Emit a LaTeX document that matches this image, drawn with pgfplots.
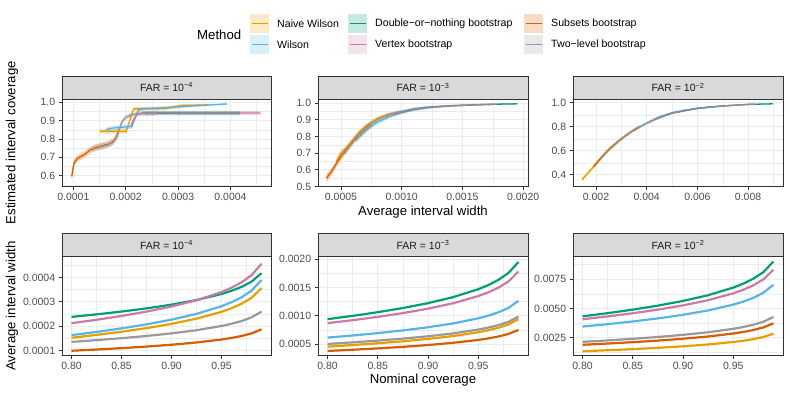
\documentclass[border=0pt]{standalone}
\usepackage{pgfplots}
\pgfplotsset{compat=1.18}
\usepackage{pgfplotstable}
\usepackage{fontspec}
\setmainfont{Liberation Sans}

\definecolor{cNai}{HTML}{E69F00}
\definecolor{cWil}{HTML}{56B4E9}
\definecolor{cDon}{HTML}{009E73}
\definecolor{cVer}{HTML}{CC79A7}
\definecolor{cSub}{HTML}{D55E00}
\definecolor{cTwo}{HTML}{999999}
\definecolor{g10}{HTML}{1A1A1A}
\definecolor{g20}{HTML}{333333}
\definecolor{g30}{HTML}{4D4D4D}
\definecolor{g85}{HTML}{D9D9D9}
\definecolor{g92}{HTML}{EBEBEB}

% ---------- bottom row: average width vs nominal coverage ----------
\pgfplotstableread{
c nai wil don ver sub two
0.800 1.520e-4 1.630e-4 2.380e-4 2.120e-4 0.985e-4 1.350e-4
0.825 1.638e-4 1.761e-4 2.484e-4 2.261e-4 1.036e-4 1.422e-4
0.850 1.769e-4 1.907e-4 2.600e-4 2.419e-4 1.093e-4 1.503e-4
0.875 1.918e-4 2.073e-4 2.731e-4 2.598e-4 1.158e-4 1.594e-4
0.900 2.093e-4 2.267e-4 2.885e-4 2.808e-4 1.233e-4 1.701e-4
0.925 2.306e-4 2.505e-4 3.074e-4 3.064e-4 1.326e-4 1.832e-4
0.950 2.589e-4 2.820e-4 3.324e-4 3.404e-4 1.449e-4 2.005e-4
0.960 2.737e-4 2.984e-4 3.454e-4 3.582e-4 1.513e-4 2.096e-4
0.970 2.920e-4 3.188e-4 3.616e-4 3.802e-4 1.593e-4 2.208e-4
0.980 3.167e-4 3.462e-4 3.833e-4 4.098e-4 1.699e-4 2.359e-4
0.990 3.560e-4 3.900e-4 4.180e-4 4.570e-4 1.870e-4 2.600e-4
}\BA
\pgfplotstableread{
c nai wil don ver sub two
0.800 0.458e-3 0.617e-3 0.941e-3 0.871e-3 0.382e-3 0.505e-3
0.825 0.486e-3 0.654e-3 0.999e-3 0.923e-3 0.403e-3 0.533e-3
0.850 0.517e-3 0.696e-3 1.064e-3 0.982e-3 0.427e-3 0.564e-3
0.875 0.552e-3 0.743e-3 1.137e-3 1.048e-3 0.454e-3 0.599e-3
0.900 0.594e-3 0.799e-3 1.223e-3 1.126e-3 0.486e-3 0.640e-3
0.925 0.644e-3 0.866e-3 1.329e-3 1.221e-3 0.525e-3 0.691e-3
0.950 0.711e-3 0.956e-3 1.468e-3 1.348e-3 0.576e-3 0.758e-3
0.960 0.746e-3 1.003e-3 1.541e-3 1.413e-3 0.603e-3 0.793e-3
0.970 0.790e-3 1.061e-3 1.632e-3 1.495e-3 0.636e-3 0.836e-3
0.980 0.848e-3 1.139e-3 1.753e-3 1.605e-3 0.681e-3 0.894e-3
0.990 0.941e-3 1.264e-3 1.947e-3 1.780e-3 0.752e-3 0.987e-3
}\BB
\pgfplotstableread{
c nai wil don ver sub two
0.800 1.360e-3 3.460e-3 4.330e-3 4.080e-3 1.910e-3 2.160e-3
0.825 1.447e-3 3.665e-3 4.599e-3 4.323e-3 2.016e-3 2.282e-3
0.850 1.543e-3 3.894e-3 4.899e-3 4.594e-3 2.133e-3 2.419e-3
0.875 1.653e-3 4.155e-3 5.239e-3 4.901e-3 2.267e-3 2.574e-3
0.900 1.781e-3 4.459e-3 5.638e-3 5.262e-3 2.424e-3 2.755e-3
0.925 1.938e-3 4.832e-3 6.126e-3 5.703e-3 2.615e-3 2.977e-3
0.950 2.146e-3 5.326e-3 6.773e-3 6.287e-3 2.869e-3 3.271e-3
0.960 2.255e-3 5.584e-3 7.110e-3 6.592e-3 3.002e-3 3.425e-3
0.970 2.390e-3 5.904e-3 7.529e-3 6.970e-3 3.166e-3 3.615e-3
0.980 2.571e-3 6.334e-3 8.092e-3 7.478e-3 3.387e-3 3.871e-3
0.990 2.860e-3 7.020e-3 8.990e-3 8.290e-3 3.740e-3 4.280e-3
}\BC

\newcommand{\tickfont}{\fontsize{10.5}{12}\selectfont}
\newcommand{\titlefont}{\fontsize{13.2}{15}\selectfont}

\pgfplotsset{
  panel/.style={
    anchor=south west, scale only axis, scaled ticks=false,
    axis line style={draw=g20, line width=0.75pt},
    tick align=outside, tick pos=left,
    major tick length=3.3pt, minor tick length=0pt,
    every tick/.style={draw=g20, line width=0.75pt},
    grid=both,
    major grid style={draw=g92, line width=0.85pt},
    minor grid style={draw=g92, line width=0.45pt},
    ticklabel style={font=\tickfont, text=g30},
  },
  toprow/.style={panel, height=87.5pt},
  botrow/.style={panel, height=98.8pt,
    xmin=0.7905, xmax=0.9995,
    xtick={0.80,0.85,0.90,0.95}, xticklabels={0.80,0.85,0.90,0.95},
    minor xtick={0.825,0.875,0.925,0.975}},
  tl/.style={line width=1.3pt},
  rb/.style={draw=none, fill opacity=0.3},
  bl/.style={line width=2.2pt},
}

\newcommand{\blines}[1]{%
  \addplot[cNai, bl] table[x=c,y=nai] {#1};
  \addplot[cWil, bl] table[x=c,y=wil] {#1};
  \addplot[cDon, bl] table[x=c,y=don] {#1};
  \addplot[cVer, bl] table[x=c,y=ver] {#1};
  \addplot[cSub, bl] table[x=c,y=sub] {#1};
  \addplot[cTwo, bl] table[x=c,y=two] {#1};
}

\begin{document}
\begin{tikzpicture}
\useasboundingbox (0pt,0pt) rectangle (789pt,395pt);

% ===== Top row, FAR = 1e-4 =====
\begin{axis}[toprow, at={(62pt,208.5pt)}, width=209pt,
  xmin=7.84e-5, xmax=4.773e-4, ymin=0.5413, ymax=1.018,
  xtick={1e-4,2e-4,3e-4,4e-4}, xticklabels={0.0001,0.0002,0.0003,0.0004},
  minor xtick={1.5e-4,2.5e-4,3.5e-4,4.5e-4},
  ytick={0.6,0.7,0.8,0.9,1.0}, yticklabels={0.6,0.7,0.8,0.9,1.0},
  minor ytick={0.55,0.65,0.75,0.85,0.95}]
  % lines
  \addplot[cNai, tl] coordinates {(1.50e-4,0.842) (1.70e-4,0.842) (2.01e-4,0.842) (2.15e-4,0.964) (2.40e-4,0.965) (2.75e-4,0.966) (3.07e-4,0.983) (3.58e-4,0.986)};
  \addplot[cWil, tl] coordinates {(1.62e-4,0.850) (1.73e-4,0.859) (2.02e-4,0.866) (2.115e-4,0.867) (2.24e-4,0.958) (2.34e-4,0.965) (2.75e-4,0.970) (3.39e-4,0.982) (3.93e-4,0.991)};
  \addplot[cDon, tl] coordinates {(2.38e-4,0.940) (3.00e-4,0.941) (4.18e-4,0.941)};
  \addplot[cVer, tl] coordinates {(2.10e-4,0.870) (2.145e-4,0.904) (2.22e-4,0.935) (2.34e-4,0.944) (3.00e-4,0.942) (4.00e-4,0.942) (4.57e-4,0.942)};
  \addplot[cSub, tl] coordinates {(9.70e-5,0.596) (9.89e-5,0.632) (1.013e-4,0.668) (1.065e-4,0.690) (1.13e-4,0.703) (1.22e-4,0.717) (1.32e-4,0.740) (1.41e-4,0.752) (1.54e-4,0.763) (1.67e-4,0.772) (1.76e-4,0.786) (1.83e-4,0.813) (1.87e-4,0.845)};
  \addplot[cTwo, tl] coordinates {(1.35e-4,0.743) (1.50e-4,0.757) (1.65e-4,0.768) (1.76e-4,0.783) (1.83e-4,0.812) (1.88e-4,0.856) (1.93e-4,0.895) (2.00e-4,0.917) (2.10e-4,0.931) (2.22e-4,0.937) (2.60e-4,0.940)};
  % ribbons (upper bound forward, lower bound back)
  \addplot[rb, fill=cNai] coordinates {(1.50e-4,0.854) (1.70e-4,0.854) (2.01e-4,0.854) (2.15e-4,0.974) (2.40e-4,0.974) (2.75e-4,0.975) (3.07e-4,0.990) (3.58e-4,0.992) (3.58e-4,0.980) (3.07e-4,0.976) (2.75e-4,0.957) (2.40e-4,0.956) (2.15e-4,0.954) (2.01e-4,0.830) (1.70e-4,0.830) (1.50e-4,0.830)};
  \addplot[rb, fill=cWil] coordinates {(1.62e-4,0.862) (1.73e-4,0.871) (2.02e-4,0.878) (2.115e-4,0.879) (2.24e-4,0.968) (2.34e-4,0.974) (2.75e-4,0.978) (3.39e-4,0.988) (3.93e-4,0.996) (3.93e-4,0.986) (3.39e-4,0.976) (2.75e-4,0.962) (2.34e-4,0.956) (2.24e-4,0.948) (2.115e-4,0.855) (2.02e-4,0.854) (1.73e-4,0.847) (1.62e-4,0.838)};
  \addplot[rb, fill=cDon] coordinates {(2.38e-4,0.952) (3.00e-4,0.953) (4.18e-4,0.953) (4.18e-4,0.929) (3.00e-4,0.929) (2.38e-4,0.928)};
  \addplot[rb, fill=cVer] coordinates {(2.10e-4,0.882) (2.145e-4,0.916) (2.22e-4,0.946) (2.34e-4,0.954) (3.00e-4,0.952) (4.00e-4,0.952) (4.57e-4,0.952) (4.57e-4,0.932) (4.00e-4,0.932) (3.00e-4,0.932) (2.34e-4,0.934) (2.22e-4,0.924) (2.145e-4,0.892) (2.10e-4,0.858)};
  \addplot[rb, fill=cSub] coordinates {(9.70e-5,0.612) (9.89e-5,0.652) (1.013e-4,0.688) (1.065e-4,0.708) (1.13e-4,0.721) (1.22e-4,0.735) (1.32e-4,0.758) (1.41e-4,0.770) (1.54e-4,0.781) (1.67e-4,0.790) (1.76e-4,0.804) (1.83e-4,0.831) (1.87e-4,0.863) (1.87e-4,0.827) (1.83e-4,0.795) (1.76e-4,0.768) (1.67e-4,0.754) (1.54e-4,0.745) (1.41e-4,0.734) (1.32e-4,0.722) (1.22e-4,0.699) (1.13e-4,0.685) (1.065e-4,0.672) (1.013e-4,0.648) (9.89e-5,0.612) (9.70e-5,0.580)};
  \addplot[rb, fill=cTwo] coordinates {(1.35e-4,0.758) (1.50e-4,0.772) (1.65e-4,0.783) (1.76e-4,0.798) (1.83e-4,0.827) (1.88e-4,0.871) (1.93e-4,0.910) (2.00e-4,0.931) (2.10e-4,0.944) (2.22e-4,0.949) (2.60e-4,0.952) (2.60e-4,0.928) (2.22e-4,0.925) (2.10e-4,0.918) (2.00e-4,0.903) (1.93e-4,0.880) (1.88e-4,0.841) (1.83e-4,0.797) (1.76e-4,0.768) (1.65e-4,0.753) (1.50e-4,0.742) (1.35e-4,0.728)};
\end{axis}

% ===== Top row, FAR = 1e-3 =====
\begin{axis}[toprow, at={(318pt,208.5pt)}, width=210pt,
  xmin=3.105e-4, xmax=2.04e-3, ymin=0.5, ymax=1.025,
  xtick={5e-4,1e-3,1.5e-3,2e-3}, xticklabels={0.0005,0.0010,0.0015,0.0020},
  minor xtick={7.5e-4,1.25e-3,1.75e-3},
  ytick={0.5,0.6,0.7,0.8,0.9,1.0}, yticklabels={0.5,0.6,0.7,0.8,0.9,1.0},
  minor ytick={0.55,0.65,0.75,0.85,0.95}]
  \addplot[cNai, tl] coordinates {(4.6e-4,0.645) (5.0e-4,0.700) (5.5e-4,0.735) (6.0e-4,0.780) (6.5e-4,0.825) (7.0e-4,0.858) (7.5e-4,0.885) (8.0e-4,0.908) (8.5e-4,0.922) (9.0e-4,0.934) (9.4e-4,0.941)};
  \addplot[cWil, tl] coordinates {(6.2e-4,0.778) (7.0e-4,0.832) (7.5e-4,0.862) (8.0e-4,0.886) (9.0e-4,0.920) (1.0e-3,0.944) (1.1e-3,0.961) (1.26e-3,0.977)};
  \addplot[cDon, tl] coordinates {(9.4e-4,0.938) (1.0e-3,0.948) (1.1e-3,0.964) (1.2e-3,0.974) (1.4e-3,0.984) (1.6e-3,0.990) (1.8e-3,0.994) (1.95e-3,0.996)};
  \addplot[cVer, tl] coordinates {(8.7e-4,0.925) (1.0e-3,0.948) (1.1e-3,0.964) (1.2e-3,0.974) (1.4e-3,0.984) (1.6e-3,0.990) (1.78e-3,0.994)};
  \addplot[cSub, tl] coordinates {(3.8e-4,0.550) (4.2e-4,0.588) (4.6e-4,0.635) (5.0e-4,0.680) (5.5e-4,0.722) (6.0e-4,0.770) (6.5e-4,0.812) (7.0e-4,0.848) (7.5e-4,0.876)};
  \addplot[cTwo, tl] coordinates {(5.0e-4,0.685) (5.5e-4,0.727) (6.0e-4,0.772) (6.5e-4,0.815) (7.0e-4,0.850) (7.5e-4,0.878) (8.0e-4,0.900) (8.5e-4,0.917) (9.0e-4,0.930) (9.9e-4,0.948)};
  \addplot[rb, fill=cNai] coordinates {(4.6e-4,0.668) (5.0e-4,0.720) (5.5e-4,0.754) (6.0e-4,0.798) (6.5e-4,0.842) (7.0e-4,0.874) (7.5e-4,0.899) (8.0e-4,0.921) (8.5e-4,0.934) (9.0e-4,0.945) (9.4e-4,0.951) (9.4e-4,0.931) (9.0e-4,0.923) (8.5e-4,0.910) (8.0e-4,0.895) (7.5e-4,0.871) (7.0e-4,0.842) (6.5e-4,0.808) (6.0e-4,0.762) (5.5e-4,0.716) (5.0e-4,0.680) (4.6e-4,0.622)};
  \addplot[rb, fill=cWil] coordinates {(6.2e-4,0.796) (7.0e-4,0.848) (7.5e-4,0.876) (8.0e-4,0.899) (9.0e-4,0.931) (1.0e-3,0.954) (1.1e-3,0.970) (1.26e-3,0.984) (1.26e-3,0.970) (1.1e-3,0.952) (1.0e-3,0.934) (9.0e-4,0.909) (8.0e-4,0.873) (7.5e-4,0.848) (7.0e-4,0.816) (6.2e-4,0.760)};
  \addplot[rb, fill=cDon] coordinates {(9.4e-4,0.949) (1.0e-3,0.958) (1.1e-3,0.973) (1.2e-3,0.981) (1.4e-3,0.990) (1.6e-3,0.995) (1.8e-3,0.998) (1.95e-3,0.999) (1.95e-3,0.993) (1.8e-3,0.990) (1.6e-3,0.985) (1.4e-3,0.978) (1.2e-3,0.967) (1.1e-3,0.955) (1.0e-3,0.938) (9.4e-4,0.927)};
  \addplot[rb, fill=cVer] coordinates {(8.7e-4,0.937) (1.0e-3,0.958) (1.1e-3,0.973) (1.2e-3,0.981) (1.4e-3,0.990) (1.6e-3,0.995) (1.78e-3,0.998) (1.78e-3,0.990) (1.6e-3,0.985) (1.4e-3,0.978) (1.2e-3,0.967) (1.1e-3,0.955) (1.0e-3,0.938) (8.7e-4,0.913)};
  \addplot[rb, fill=cSub] coordinates {(3.8e-4,0.575) (4.2e-4,0.611) (4.6e-4,0.657) (5.0e-4,0.700) (5.5e-4,0.741) (6.0e-4,0.788) (6.5e-4,0.829) (7.0e-4,0.864) (7.5e-4,0.890) (7.5e-4,0.862) (7.0e-4,0.832) (6.5e-4,0.795) (6.0e-4,0.752) (5.5e-4,0.703) (5.0e-4,0.660) (4.6e-4,0.613) (4.2e-4,0.565) (3.8e-4,0.525)};
  \addplot[rb, fill=cTwo] coordinates {(5.0e-4,0.705) (5.5e-4,0.746) (6.0e-4,0.790) (6.5e-4,0.832) (7.0e-4,0.866) (7.5e-4,0.892) (8.0e-4,0.913) (8.5e-4,0.929) (9.0e-4,0.941) (9.9e-4,0.958) (9.9e-4,0.938) (9.0e-4,0.919) (8.5e-4,0.905) (8.0e-4,0.887) (7.5e-4,0.864) (7.0e-4,0.834) (6.5e-4,0.798) (6.0e-4,0.754) (5.5e-4,0.708) (5.0e-4,0.665)};
\end{axis}

% ===== Top row, FAR = 1e-2 =====
\begin{axis}[toprow, at={(573pt,208.5pt)}, width=210pt,
  xmin=1.093e-3, xmax=9.377e-3, ymin=0.303, ymax=1.031,
  xtick={2e-3,4e-3,6e-3,8e-3}, xticklabels={0.002,0.004,0.006,0.008},
  minor xtick={3e-3,5e-3,7e-3,9e-3},
  ytick={0.4,0.6,0.8,1.0}, yticklabels={0.4,0.6,0.8,1.0},
  minor ytick={0.5,0.7,0.9}]
  \addplot[cNai, tl] coordinates {(1.45e-3,0.360) (1.7e-3,0.420) (2.0e-3,0.490) (2.3e-3,0.565) (2.6e-3,0.628) (2.86e-3,0.675)};
  \addplot[cWil, tl] coordinates {(3.46e-3,0.770) (4.0e-3,0.830) (4.5e-3,0.880) (5.0e-3,0.915) (5.5e-3,0.937) (6.0e-3,0.953) (6.5e-3,0.965) (7.02e-3,0.973)};
  \addplot[cDon, tl] coordinates {(4.33e-3,0.862) (5.0e-3,0.915) (6.0e-3,0.953) (7.0e-3,0.973) (8.0e-3,0.986) (8.99e-3,0.991)};
  \addplot[cVer, tl] coordinates {(4.08e-3,0.838) (4.5e-3,0.880) (5.0e-3,0.915) (6.0e-3,0.953) (7.0e-3,0.973) (8.0e-3,0.986) (8.29e-3,0.988)};
  \addplot[cSub, tl] coordinates {(1.91e-3,0.470) (2.2e-3,0.542) (2.5e-3,0.610) (2.8e-3,0.665) (3.1e-3,0.715) (3.4e-3,0.760) (3.74e-3,0.800)};
  \addplot[cTwo, tl] coordinates {(2.16e-3,0.530) (2.5e-3,0.610) (3.0e-3,0.700) (3.5e-3,0.775) (4.0e-3,0.830) (4.28e-3,0.856)};
  \addplot[rb, fill=cNai] coordinates {(1.45e-3,0.375) (1.7e-3,0.435) (2.0e-3,0.505) (2.3e-3,0.580) (2.6e-3,0.642) (2.86e-3,0.689) (2.86e-3,0.661) (2.6e-3,0.614) (2.3e-3,0.550) (2.0e-3,0.475) (1.7e-3,0.405) (1.45e-3,0.345)};
  \addplot[rb, fill=cWil] coordinates {(3.46e-3,0.782) (4.0e-3,0.841) (4.5e-3,0.890) (5.0e-3,0.924) (5.5e-3,0.945) (6.0e-3,0.960) (6.5e-3,0.971) (7.02e-3,0.978) (7.02e-3,0.968) (6.5e-3,0.959) (6.0e-3,0.946) (5.5e-3,0.929) (5.0e-3,0.906) (4.5e-3,0.870) (4.0e-3,0.819) (3.46e-3,0.758)};
  \addplot[rb, fill=cDon] coordinates {(4.33e-3,0.872) (5.0e-3,0.924) (6.0e-3,0.960) (7.0e-3,0.978) (8.0e-3,0.990) (8.99e-3,0.994) (8.99e-3,0.988) (8.0e-3,0.982) (7.0e-3,0.968) (6.0e-3,0.946) (5.0e-3,0.906) (4.33e-3,0.852)};
  \addplot[rb, fill=cVer] coordinates {(4.08e-3,0.849) (4.5e-3,0.890) (5.0e-3,0.924) (6.0e-3,0.960) (7.0e-3,0.978) (8.0e-3,0.990) (8.29e-3,0.992) (8.29e-3,0.984) (8.0e-3,0.982) (7.0e-3,0.968) (6.0e-3,0.946) (5.0e-3,0.906) (4.5e-3,0.870) (4.08e-3,0.827)};
  \addplot[rb, fill=cSub] coordinates {(1.91e-3,0.485) (2.2e-3,0.557) (2.5e-3,0.624) (2.8e-3,0.679) (3.1e-3,0.728) (3.4e-3,0.772) (3.74e-3,0.811) (3.74e-3,0.789) (3.4e-3,0.748) (3.1e-3,0.702) (2.8e-3,0.651) (2.5e-3,0.596) (2.2e-3,0.527) (1.91e-3,0.455)};
  \addplot[rb, fill=cTwo] coordinates {(2.16e-3,0.545) (2.5e-3,0.624) (3.0e-3,0.713) (3.5e-3,0.787) (4.0e-3,0.841) (4.28e-3,0.866) (4.28e-3,0.846) (4.0e-3,0.819) (3.5e-3,0.763) (3.0e-3,0.687) (2.5e-3,0.596) (2.16e-3,0.515)};
\end{axis}

% ===== Bottom row =====
\begin{axis}[botrow, at={(62pt,39.5pt)}, width=209pt,
  ymin=0.79e-4, ymax=4.86e-4,
  ytick={1e-4,2e-4,3e-4,4e-4}, yticklabels={0.0001,0.0002,0.0003,0.0004},
  minor ytick={1.5e-4,2.5e-4,3.5e-4,4.5e-4}]
  \blines{\BA}
\end{axis}

\begin{axis}[botrow, at={(318pt,39.5pt)}, width=210pt,
  ymin=3.02e-4, ymax=2.04e-3,
  ytick={5e-4,1e-3,1.5e-3,2e-3}, yticklabels={0.0005,0.0010,0.0015,0.0020},
  minor ytick={7.5e-4,1.25e-3,1.75e-3}]
  \blines{\BB}
\end{axis}

\begin{axis}[botrow, at={(573pt,39.5pt)}, width=210pt,
  ymin=1.0e-3, ymax=9.4e-3,
  ytick={2.5e-3,5e-3,7.5e-3}, yticklabels={0.0025,0.0050,0.0075},
  minor ytick={1.25e-3,3.75e-3,6.25e-3,8.75e-3}]
  \blines{\BC}
\end{axis}

\begin{scope}[x=1pt,y=1pt]
% ===== Strips =====
\foreach \xl/\xr/\xc/\e in {62/271/166.5/4, 318/528/423/3, 573/783/678/2} {
  \draw[fill=g85, draw=g20, line width=0.75pt] (\xl,296) rectangle (\xr,319);
  \node[font=\tickfont, text=g10] at (\xc,307.5) {FAR = 10\textsuperscript{−\e}};
  \draw[fill=g85, draw=g20, line width=0.75pt] (\xl,138.3) rectangle (\xr,162);
  \node[font=\tickfont, text=g10] at (\xc,150.2) {FAR = 10\textsuperscript{−\e}};
}

% ===== Axis titles =====
\node[font=\titlefont, rotate=90] at (12,252.3) {Estimated interval coverage};
\node[font=\titlefont, rotate=90] at (12,89) {Average interval width};
\node[font=\titlefont] at (423,183.3) {Average interval width};
\node[font=\titlefont] at (423,15) {Nominal coverage};

% ===== Legend =====
\node[font=\titlefont, anchor=west, inner sep=0pt] at (197,360) {Method};
\foreach \bx/\by/\c/\t in {
  250/361.7/cNai/Naive Wilson,
  250/340.7/cWil/Wilson,
  348/361.7/cDon/Double−or−nothing bootstrap,
  348/340.7/cVer/Vertex bootstrap,
  524/361.7/cSub/Subsets bootstrap,
  524/340.7/cTwo/Two−level bootstrap} {
  \fill[\c, opacity=0.22] (\bx,\by) rectangle ++(19.3,19.3);
  \draw[\c, line width=1.5pt] ([shift={(1.7,9.65)}]\bx,\by) -- ++(15.9,0);
  \node[font=\fontsize{10.6}{12}\selectfont, anchor=west, inner sep=0pt] at ([shift={(27,9.65)}]\bx,\by) {\t};
}
\end{scope}
\end{tikzpicture}
\end{document}
